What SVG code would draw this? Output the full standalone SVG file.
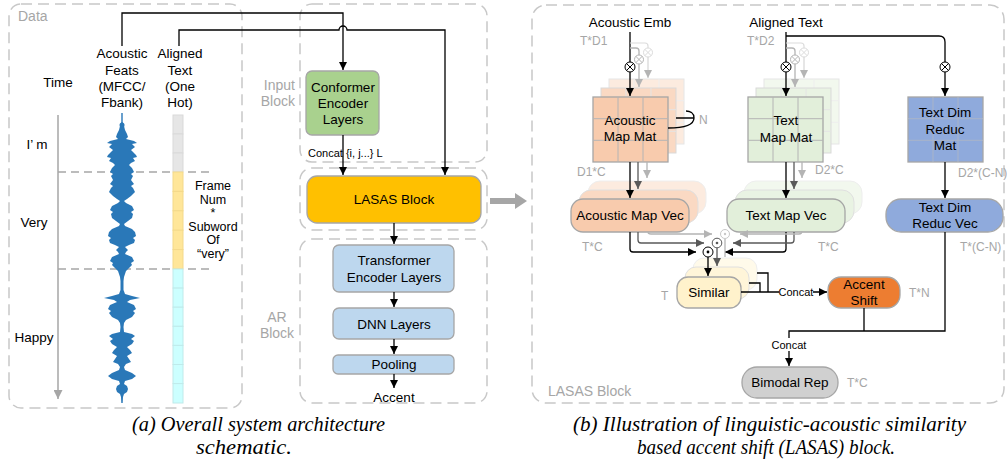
<svg xmlns="http://www.w3.org/2000/svg" width="1007" height="461" viewBox="0 0 1007 461">
<defs>
<style>
text{font-family:"Liberation Sans",Arial,sans-serif;}
.t15{font-size:13.5px;fill:#000;text-anchor:middle}
.t14{font-size:13.5px;fill:#000;text-anchor:middle}
.gl{font-size:14px;fill:#a6a6a6}
.dim{font-size:12px;fill:#a6a6a6}
.sm{font-size:11px;fill:#000}
.dash{fill:none;stroke:#c8c8c8;stroke-width:1.5;stroke-dasharray:11 6}
.cap{font-family:"Liberation Serif","Times New Roman",serif;font-style:italic;font-size:20px;fill:#000}
.ln{fill:none;stroke:#000;stroke-width:1.3}
.lnd{fill:none;stroke:#595959;stroke-width:1.3}
.lnl{fill:none;stroke:#b4b4b4;stroke-width:1.3}
.node{stroke:#a6a6a6;stroke-width:1.3}
</style>
<marker id="ah" viewBox="0 0 10 10" refX="10" refY="5" markerWidth="9" markerHeight="8" markerUnits="userSpaceOnUse" orient="auto"><path d="M0,0 L10,5 L0,10 z" fill="#000"/></marker>
<marker id="ahd" viewBox="0 0 10 10" refX="10" refY="5" markerWidth="9" markerHeight="8" markerUnits="userSpaceOnUse" orient="auto"><path d="M0,0 L10,5 L0,10 z" fill="#595959"/></marker>
<marker id="ahl" viewBox="0 0 10 10" refX="10" refY="5" markerWidth="9" markerHeight="8" markerUnits="userSpaceOnUse" orient="auto"><path d="M0,0 L10,5 L0,10 z" fill="#b4b4b4"/></marker>
<marker id="ahg" viewBox="0 0 10 10" refX="10" refY="5" markerWidth="11" markerHeight="9" markerUnits="userSpaceOnUse" orient="auto"><path d="M0,0 L10,5 L0,10 z" fill="#a6a6a6"/></marker>
<g id="mgrid"><path d="M25 0V65M50 0V65M0 21.7H75M0 43.3H75" fill="none"/></g>
</defs>
<rect width="1007" height="461" fill="#fff"/>

<!-- Panel frames -->
<g id="frames">
<rect class="dash" x="9" y="4" width="233" height="404" rx="12"/>
<text class="gl" x="18" y="21">Data</text>
<rect class="dash" x="300" y="4" width="187" height="158" rx="12"/>
<text class="gl" x="295" y="90" text-anchor="end">Input</text>
<text class="gl" x="295" y="106" text-anchor="end">Block</text>
<rect class="dash" x="300" y="168" width="187" height="62" rx="12"/>
<rect class="dash" x="300" y="239" width="187" height="164" rx="12"/>
<text class="gl" x="277" y="322" text-anchor="middle">AR</text>
<text class="gl" x="277" y="338" text-anchor="middle">Block</text>
<rect class="dash" x="532" y="5" width="472" height="398" rx="14"/>
<text class="gl" x="548" y="396">LASAS Block</text>
</g>

<!-- Data panel -->
<g id="data">
<text class="t15" x="122" y="58">Acoustic</text>
<text class="t15" x="122" y="75">Feats</text>
<text class="t15" x="122" y="91">(MFCC/</text>
<text class="t15" x="122" y="107">Fbank)</text>
<text class="t15" x="180" y="58">Aligned</text>
<text class="t15" x="180" y="75">Text</text>
<text class="t15" x="180" y="91">(One</text>
<text class="t15" x="180" y="107">Hot)</text>
<text class="t15" x="58" y="87">Time</text>
<text class="t14" x="37" y="149">I’ m</text>
<text class="t14" x="34" y="227">Very</text>
<text class="t14" x="34" y="342">Happy</text>
<line x1="58" y1="115" x2="58" y2="399" stroke="#a6a6a6" stroke-width="1.5" marker-end="url(#ahg)"/>
<path d="M58 172H210M58 269H210" stroke="#a6a6a6" stroke-width="1.3" stroke-dasharray="8 5" fill="none"/>
<path fill="#2a78b8" d="M121.3 113 L121.3 122 L120 126 L119 130 L117 134 L116 137 L118 139 L110 141 L107 143 L112 144 L109 147 L113 150 L111 152 L108 155 L107 157 L111 158 L109 161 L113 163 L115 165 L112 168 L110 172 L113 174 L111 176 L113 180 L110 184 L113 186 L111 188 L109 192 L113 196 L117 199 L120 201 L118 203 L112 206 L110 210 L113 212 L111 214 L112 218 L116 221 L120 224 L119 226 L112 229 L109 232 L108 236 L111 238 L109 240 L110 243 L115 245 L119 247 L116 250 L118 252 L119 254 L112 257 L110 261 L113 263 L112 265 L115 268 L118 271 L119 274 L120 277 L120.5 281 L120.5 290 L119 294 L112 296 L104 298 L114 300 L117 302 L110 305 L108 309 L111 311 L109 313 L112 317 L118 320 L120 323 L120.5 327 L120 332 L112 334 L109 336 L113 339 L110 341 L112 344 L117 347 L114 350 L112 353 L117 356 L115 359 L113 362 L118 364 L120 367 L119 370 L112 373 L108 376 L112 379 L119 381 L120 384 L117 386 L116 389 L117 392 L120 394 L121 397 L121.3 403 L122.7 403 L123 397 L124 394 L127 392 L128 389 L127 386 L124 384 L125 381 L132 379 L136 376 L132 373 L125 370 L124 367 L126 364 L131 362 L129 359 L127 356 L132 353 L130 350 L127 347 L132 344 L134 341 L131 339 L135 336 L132 334 L124 332 L123.5 327 L124 323 L126 320 L132 317 L135 313 L133 311 L136 309 L134 305 L127 302 L130 300 L140 298 L132 296 L125 294 L123.5 290 L123.5 281 L124 277 L125 274 L126 271 L129 268 L132 265 L131 263 L134 261 L132 257 L125 254 L126 252 L128 250 L125 247 L129 245 L134 243 L135 240 L133 238 L136 236 L135 232 L132 229 L125 226 L124 224 L128 221 L132 218 L133 214 L131 212 L134 210 L132 206 L126 203 L124 201 L127 199 L131 196 L135 192 L133 188 L131 186 L134 184 L131 180 L133 176 L131 174 L134 172 L132 168 L129 165 L131 163 L135 161 L133 158 L137 157 L136 155 L133 152 L131 150 L135 147 L132 144 L137 143 L134 141 L126 139 L128 137 L127 134 L125 130 L124 126 L122.7 122 L122.7 113 Z"/>
<circle cx="122" cy="125" r="2.5" fill="#2a78b8"/>
<g stroke="#d9d9d9" stroke-width="1">
<rect x="173" y="115" width="10" height="19" fill="#e6e6e6"/>
<rect x="173" y="134" width="10" height="19" fill="#e6e6e6"/>
<rect x="173" y="153" width="10" height="19" fill="#e6e6e6"/>
</g>
<g stroke="#f3d98a" stroke-width="1">
<rect x="173" y="172" width="10" height="19.4" fill="#ffe699"/>
<rect x="173" y="191.4" width="10" height="19.4" fill="#ffe699"/>
<rect x="173" y="210.8" width="10" height="19.4" fill="#ffe699"/>
<rect x="173" y="230.2" width="10" height="19.4" fill="#ffe699"/>
<rect x="173" y="249.6" width="10" height="19.4" fill="#ffe699"/>
</g>
<g stroke="#bfeaea" stroke-width="1">
<rect x="173" y="269" width="10" height="19.1" fill="#ccffff"/>
<rect x="173" y="288.1" width="10" height="19.1" fill="#ccffff"/>
<rect x="173" y="307.2" width="10" height="19.1" fill="#ccffff"/>
<rect x="173" y="326.3" width="10" height="19.1" fill="#ccffff"/>
<rect x="173" y="345.4" width="10" height="19.1" fill="#ccffff"/>
<rect x="173" y="364.5" width="10" height="19.1" fill="#ccffff"/>
<rect x="173" y="383.6" width="10" height="19.4" fill="#ccffff"/>
</g>
<g font-size="12.5" text-anchor="middle">
<text x="213" y="190">Frame</text>
<text x="213" y="203.5">Num</text>
<text x="213" y="217">*</text>
<text x="213" y="230.5">Subword</text>
<text x="213" y="244">Of</text>
<text x="213" y="257.5">“very”</text>
</g>
</g>

<!-- Overall architecture nodes -->
<g id="conformer">
<rect class="node" x="306" y="71" width="73" height="64" rx="6" fill="#a9d18e"/>
<text class="t15" x="343" y="92">Conformer</text>
<text class="t15" x="343" y="108">Encoder</text>
<text class="t15" x="343" y="124">Layers</text>
</g>
<g id="lasas-block">
<rect class="node" x="307" y="176" width="174" height="47" rx="10" fill="#ffc000"/>
<text class="t15" x="394" y="204">LASAS Block</text>
</g>
<g id="transformer">
<rect class="node" x="333" y="245" width="121" height="47" rx="6" fill="#bdd7ee"/>
<text class="t15" x="394" y="265">Transformer</text>
<text class="t15" x="394" y="282">Encoder Layers</text>
</g>
<g id="dnn">
<rect class="node" x="333" y="308" width="121" height="31" rx="6" fill="#bdd7ee"/>
<text class="t15" x="394" y="329">DNN Layers</text>
</g>
<g id="pooling">
<rect class="node" x="333" y="355" width="121" height="19" rx="5" fill="#bdd7ee"/>
<text class="t15" x="394" y="369">Pooling</text>
</g>
<g id="accent-out">
<text class="t15" x="394" y="402">Accent</text>
</g>

<g id="panel-arrow">
<path d="M490 198H515V193L527 201L515 209V204H490Z" fill="#a6a6a6"/>
</g>

<!-- LASAS detail nodes -->
<g id="acoustic-map-mat">
<rect x="609" y="79" width="75" height="65" fill="#fcebdf" stroke="#e6e6e6"/>
<use href="#mgrid" x="609" y="79" stroke="#eee"/>
<rect x="601" y="88" width="75" height="65" fill="#fad9c3" stroke="#d9d9d9"/>
<use href="#mgrid" x="601" y="88" stroke="#e4e4e4"/>
<rect x="593" y="97" width="75" height="65" fill="#f8cbad" stroke="#a6a6a6" stroke-width="1.3"/>
<use href="#mgrid" x="593" y="97" stroke="#b4b4b4"/>
<text class="t15" x="630" y="125">Acoustic</text>
<text class="t15" x="630" y="141">Map Mat</text>
</g>
<g id="text-map-mat">
<rect x="764" y="79" width="75" height="65" fill="#f2f8ee" stroke="#e6e6e6"/>
<use href="#mgrid" x="764" y="79" stroke="#eee"/>
<rect x="756" y="88" width="75" height="65" fill="#e9f3e3" stroke="#d9d9d9"/>
<use href="#mgrid" x="756" y="88" stroke="#e4e4e4"/>
<rect x="748" y="97" width="75" height="65" fill="#e2efda" stroke="#a6a6a6" stroke-width="1.3"/>
<use href="#mgrid" x="748" y="97" stroke="#b4b4b4"/>
<text class="t15" x="786" y="125">Text</text>
<text class="t15" x="786" y="142">Map Mat</text>
</g>
<g id="text-dim-reduc-mat">
<rect x="908" y="97" width="75" height="65" fill="#8faadc" stroke="#a6a6a6" stroke-width="1.3"/>
<use href="#mgrid" x="908" y="97" stroke="#a9b4c8"/>
<text class="t15" x="945" y="117">Text Dim</text>
<text class="t15" x="945" y="134">Reduc</text>
<text class="t15" x="945" y="150">Mat</text>
</g>
<g id="acoustic-map-vec">
<rect x="588" y="181" width="118" height="33" rx="12" fill="#fcebdf" stroke="#eee"/>
<rect x="579" y="190" width="119" height="33" rx="12" fill="#fad9c3" stroke="#e0e0e0"/>
<rect class="node" x="571" y="199" width="118" height="33" rx="12" fill="#f8cbad"/>
<text class="t15" x="630" y="220">Acoustic Map Vec</text>
</g>
<g id="text-map-vec">
<rect x="744" y="181" width="118" height="33" rx="12" fill="#f2f8ee" stroke="#eee"/>
<rect x="735" y="190" width="119" height="33" rx="12" fill="#e9f3e3" stroke="#e0e0e0"/>
<rect class="node" x="727" y="199" width="118" height="33" rx="12" fill="#e2efda"/>
<text class="t15" x="786" y="220">Text Map Vec</text>
</g>
<g id="text-dim-reduc-vec">
<rect class="node" x="886" y="199" width="117" height="33" rx="15" fill="#8faadc"/>
<text class="t15" x="945" y="212">Text Dim</text>
<text class="t15" x="945" y="228">Reduc Vec</text>
</g>
<g id="similar">
<rect x="693" y="258" width="64" height="32" rx="11" fill="#fffaea" stroke="#eee"/>
<rect x="685" y="267" width="64" height="32" rx="11" fill="#fff5d9" stroke="#e0e0e0"/>
<rect class="node" x="677" y="277" width="64" height="31" rx="11" fill="#fff2cc"/>
<text class="t15" x="709" y="297">Similar</text>
</g>
<g id="accent-shift">
<rect class="node" x="828" y="277" width="72" height="31" rx="13" fill="#ed7d31"/>
<text class="t15" x="864" y="289">Accent</text>
<text class="t15" x="864" y="305">Shift</text>
</g>
<g id="bimodal-rep">
<rect class="node" x="742" y="367" width="96" height="31" rx="15" fill="#d0d0d0"/>
<text class="t15" x="790" y="387">Bimodal Rep</text>
</g>

<!-- LASAS labels -->
<g id="labels">
<text class="t15" x="630" y="27">Acoustic Emb</text>
<text class="t15" x="786" y="27">Aligned Text</text>
<text class="dim" x="580" y="45">T*D1</text>
<text class="dim" x="747" y="45">T*D2</text>
<text class="dim" x="577" y="176">D1*C</text>
<text class="dim" x="815" y="174">D2*C</text>
<text class="dim" x="958" y="177">D2*(C-N)</text>
<text class="dim" x="582" y="251">T*C</text>
<text class="dim" x="818" y="251">T*C</text>
<text class="dim" x="960" y="251">T*(C-N)</text>
<text class="dim" x="661" y="300">T</text>
<text class="dim" x="909" y="297">T*N</text>
<text class="dim" x="847" y="387">T*C</text>
<text class="dim" x="699" y="124" font-size="13">N</text>
</g>

<!-- Connectors -->
<g id="connectors">
<path class="ln" stroke="#404040" d="M122 46V13H343V70" marker-end="url(#ah)"/>
<path class="ln" stroke="#404040" d="M179 46V30H339A4 4 0 0 1 347 30H445V175" marker-end="url(#ah)"/>
<path class="ln" d="M343 135V175" marker-end="url(#ah)"/>
<path class="ln" d="M394 223V244" marker-end="url(#ah)"/>
<path class="ln" d="M394 292V307" marker-end="url(#ah)"/>
<path class="ln" d="M394 339V354" marker-end="url(#ah)"/>
<path class="ln" d="M394 374V388" marker-end="url(#ah)"/>

<!-- acoustic branch -->
<path class="ln" d="M630 32V62"/>
<path class="lnl" d="M630 48H636Q639 48 639 51V55"/>
<path d="M630 43H645Q648 43 648 46V48" fill="none" stroke="#dcdcdc" stroke-width="1.2"/>
<circle cx="648" cy="52.5" r="4.5" fill="#fff" stroke="#dcdcdc"/>
<path d="M644.8 49.3l6.4 6.4M651.2 49.3l-6.4 6.4" stroke="#dcdcdc"/>
<circle cx="639" cy="59.5" r="4.5" fill="#fff" stroke="#b4b4b4"/>
<path d="M635.8 56.3l6.4 6.4M642.2 56.3l-6.4 6.4" stroke="#b4b4b4"/>
<circle cx="630" cy="67" r="5" fill="#fff" stroke="#000"/>
<path d="M626.5 63.5l7 7M633.5 63.5l-7 7" stroke="#000"/>
<path class="ln" d="M630 72V96" marker-end="url(#ah)"/>
<path class="lnl" d="M639 64V87" marker-end="url(#ahl)"/>
<path d="M648 57V78" fill="none" stroke="#d6d6d6" stroke-width="1.2" marker-end="url(#ahl)"/>
<path class="ln" d="M676 118H694M668 128C686 128 694 124 694 118C694 113 690 111 686 111"/>

<!-- text branch -->
<path class="ln" d="M786 32V62"/>
<path class="ln" d="M786 36H939Q945 36 945 42V62"/>
<path class="lnl" d="M786 48H792Q795 48 795 51V55"/>
<path d="M786 43H801Q804 43 804 46V48" fill="none" stroke="#dcdcdc" stroke-width="1.2"/>
<circle cx="804" cy="52.5" r="4.5" fill="#fff" stroke="#dcdcdc"/>
<path d="M800.8 49.3l6.4 6.4M807.2 49.3l-6.4 6.4" stroke="#dcdcdc"/>
<circle cx="795" cy="59.5" r="4.5" fill="#fff" stroke="#b4b4b4"/>
<path d="M791.8 56.3l6.4 6.4M798.2 56.3l-6.4 6.4" stroke="#b4b4b4"/>
<circle cx="786" cy="67" r="5" fill="#fff" stroke="#000"/>
<path d="M782.5 63.5l7 7M789.5 63.5l-7 7" stroke="#000"/>
<path class="ln" d="M786 72V96" marker-end="url(#ah)"/>
<path class="lnl" d="M795 64V87" marker-end="url(#ahl)"/>
<path d="M804 57V78" fill="none" stroke="#d6d6d6" stroke-width="1.2" marker-end="url(#ahl)"/>
<circle cx="945" cy="67" r="5" fill="#fff" stroke="#000"/>
<path d="M941.5 63.5l7 7M948.5 63.5l-7 7" stroke="#000"/>
<path class="ln" d="M945 72V96" marker-end="url(#ah)"/>

<!-- mat to vec -->
<path class="ln" d="M630 162V198" marker-end="url(#ah)"/>
<path class="lnd" d="M638 162V189" marker-end="url(#ahd)"/>
<path class="lnl" d="M647 162V178" marker-end="url(#ahl)"/>
<path class="ln" d="M786 162V198" marker-end="url(#ah)"/>
<path class="lnd" d="M794 162V189" marker-end="url(#ahd)"/>
<path class="lnl" d="M802 162V178" marker-end="url(#ahl)"/>
<path class="ln" d="M945 162V198" marker-end="url(#ah)"/>

<!-- vec to similarity -->
<path class="ln" d="M630 232V249Q630 252 633 252H696" marker-end="url(#ah)"/>
<path class="lnd" d="M638 232V240Q638 243 641 243H704" marker-end="url(#ahd)"/>
<path class="lnl" d="M648 232Q648 234 651 234H712" marker-end="url(#ahl)"/>
<path class="ln" d="M786 232V249Q786 252 783 252H725" marker-end="url(#ah)"/>
<path class="lnd" d="M794 232V240Q794 243 791 243H733" marker-end="url(#ahd)"/>
<path class="lnl" d="M802 231Q802 234 799 234H740" marker-end="url(#ahl)"/>
<circle cx="725" cy="234" r="4.5" fill="#fff" stroke="#c8c8c8"/>
<circle cx="725" cy="234" r="1.2" fill="#c8c8c8"/>
<circle cx="717" cy="243" r="4.8" fill="#fff" stroke="#595959"/>
<circle cx="717" cy="243" r="1.3" fill="#595959"/>
<circle cx="708" cy="252" r="5" fill="#fff" stroke="#000"/>
<circle cx="708" cy="252" r="1.4" fill="#000"/>
<path class="ln" d="M708 257V276" marker-end="url(#ah)"/>
<path class="lnd" d="M717 248V266" marker-end="url(#ahd)"/>
<path class="lnl" d="M725 239V257"/>

<!-- similar to accent shift -->
<path class="ln" d="M757 273H768V292M749 283H760V292"/>
<path class="ln" d="M741 292H779M813 292H827" marker-end="url(#ah)"/>
<text class="sm" x="796" y="296" text-anchor="middle">Concat</text>

<!-- to bimodal -->
<path class="ln" d="M864 308V331M945 232V331H789V366" marker-end="url(#ah)"/>
<rect x="772" y="338" width="34" height="13" fill="#fff"/>
<text class="sm" x="789" y="349" text-anchor="middle">Concat</text>
<text class="sm" x="308" y="157">Concat {i, j...} L</text>
</g>

<!-- Captions -->
<g id="captions">
<text class="cap" x="132" y="431" textLength="253" lengthAdjust="spacingAndGlyphs">(a) Overall system architecture</text>
<text class="cap" x="196" y="454" textLength="96" lengthAdjust="spacingAndGlyphs">schematic.</text>
<text class="cap" x="573" y="431" textLength="393" lengthAdjust="spacingAndGlyphs">(b)  Illustration of linguistic-acoustic similarity</text>
<text class="cap" x="637" y="454" textLength="258" lengthAdjust="spacingAndGlyphs">based accent shift (LASAS) block.</text>
</g>
</svg>
